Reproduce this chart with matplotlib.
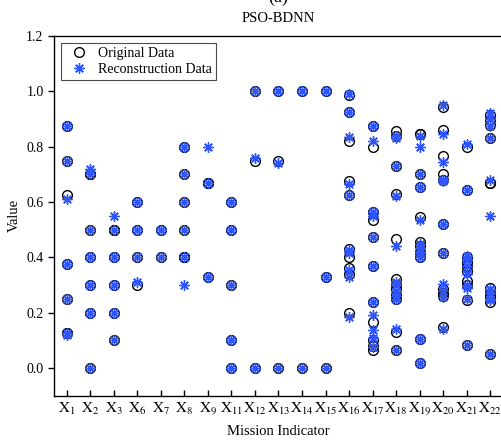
import numpy as np
import matplotlib
matplotlib.use('Agg')
import matplotlib.pyplot as plt

plt.rcParams['font.family'] = ['Liberation Serif', 'DejaVu Serif']
plt.rcParams['mathtext.fontset'] = 'stix'

# mission indicators shown on the x axis
indicators = ['1', '2', '3', '6', '7', '8', '9', '11', '12', '13', '14',
              '15', '16', '17', '18', '19', '20', '21', '22']

# original data, one list per indicator
original = [
    [0.875, 0.75, 0.625, 0.375, 0.25, 0.125, 0.125],
    [0.70, 0.70, 0.50, 0.40, 0.30, 0.20, 0.0],
    [0.50, 0.50, 0.40, 0.30, 0.20, 0.10],
    [0.60, 0.50, 0.40, 0.30],
    [0.50, 0.40],
    [0.80, 0.70, 0.60, 0.50, 0.40, 0.40],
    [0.67, 0.67, 0.33],
    [0.60, 0.50, 0.30, 0.10, 0.0],
    [1.0, 0.75, 0.0],
    [1.0, 0.75, 0.0],
    [1.0, 0.0],
    [1.0, 0.33, 0.0],
    [0.985, 0.925, 0.82, 0.675, 0.625, 0.43, 0.40, 0.36, 0.34, 0.20],
    [0.875, 0.80, 0.565, 0.535, 0.475, 0.37, 0.237, 0.168, 0.10, 0.08, 0.066],
    [0.855, 0.84, 0.73, 0.63, 0.465, 0.32, 0.30, 0.285, 0.265, 0.25, 0.13, 0.065],
    [0.845, 0.845, 0.70, 0.655, 0.545, 0.455, 0.44, 0.42, 0.40, 0.105, 0.018],
    [0.945, 0.86, 0.765, 0.70, 0.68, 0.52, 0.415, 0.285, 0.27, 0.26, 0.15],
    [0.80, 0.645, 0.40, 0.385, 0.37, 0.35, 0.315, 0.30, 0.245, 0.085],
    [0.915, 0.895, 0.88, 0.83, 0.67, 0.67, 0.29, 0.27, 0.255, 0.24, 0.05],
]

# reconstructed data (PSO-BDNN)
recon = [
    [0.875, 0.75, 0.61, 0.375, 0.25, 0.125, 0.12],
    [0.72, 0.70, 0.50, 0.40, 0.30, 0.20, 0.0],
    [0.55, 0.50, 0.40, 0.30, 0.20, 0.10],
    [0.60, 0.50, 0.40, 0.31],
    [0.50, 0.40],
    [0.80, 0.70, 0.60, 0.50, 0.40, 0.30],
    [0.80, 0.67, 0.33],
    [0.60, 0.50, 0.30, 0.10, 0.0],
    [1.0, 0.76, 0.0],
    [1.0, 0.74, 0.0],
    [1.0, 0.0],
    [1.0, 0.33, 0.0],
    [0.99, 0.925, 0.835, 0.665, 0.625, 0.425, 0.415, 0.355, 0.33, 0.185],
    [0.875, 0.82, 0.565, 0.55, 0.475, 0.37, 0.24, 0.19, 0.138, 0.108, 0.075],
    [0.84, 0.83, 0.73, 0.62, 0.44, 0.31, 0.30, 0.28, 0.26, 0.25, 0.14, 0.065],
    [0.84, 0.80, 0.70, 0.655, 0.535, 0.45, 0.435, 0.42, 0.40, 0.105, 0.018],
    [0.95, 0.845, 0.745, 0.68, 0.675, 0.52, 0.415, 0.305, 0.28, 0.255, 0.14],
    [0.81, 0.645, 0.405, 0.39, 0.37, 0.34, 0.30, 0.29, 0.25, 0.085],
    [0.92, 0.90, 0.875, 0.83, 0.68, 0.55, 0.285, 0.27, 0.25, 0.245, 0.05],
]

blue = '#2f55ff'

fig = plt.figure(figsize=(5.01, 4.41), dpi=100)
ax = fig.add_axes([54 / 501, 0.1027, 448 / 501, 0.8157])

for i in range(len(indicators)):
    xs = [i + 1] * len(original[i])
    ax.plot(xs, original[i], 'o', ms=7, mfc='none', mec='black', mew=1.0,
            label='Original Data' if i == 0 else None)
for i in range(len(indicators)):
    xs = [i + 1] * len(recon[i])
    ax.plot(xs, recon[i], ls='none', marker=(8, 2, 0), ms=7.5, mec=blue, mew=1.0,
            label='Reconstruction Data' if i == 0 else None)

ax.set_xlim(0.46, 19.5)
ax.set_ylim(-0.1, 1.2)
ax.set_xticks(np.arange(1, len(indicators) + 1))
ax.set_xticklabels([r'$\mathrm{X}_{%s}$' % s for s in indicators], fontsize=11)
ax.set_yticks(np.arange(0, 1.21, 0.2))
ax.set_yticklabels(['%.1f' % v for v in np.arange(0, 1.21, 0.2)], fontsize=10)
ax.tick_params(axis='x', direction='in', length=4, width=1)
ax.tick_params(axis='y', direction='out', length=4, width=1)
for sp in ax.spines.values():
    sp.set_linewidth(1.0)

ax.set_xlabel('Mission Indicator', fontsize=10.5, labelpad=6)
ax.set_ylabel('Value', fontsize=10.5)
ax.set_title('PSO-BDNN', fontsize=10.5, pad=10)
# panel label, cut off at the top edge as in the source figure
fig.text(0.555, 1.005, '(a)', fontsize=13, ha='center', va='center')

leg = ax.legend(loc='upper left', fontsize=10, frameon=True, fancybox=False,
                edgecolor='0.3', framealpha=1, borderaxespad=0.5,
                handletextpad=0.4, borderpad=0.3, labelspacing=0.2)
leg.get_frame().set_linewidth(0.8)

fig.savefig('out.png', dpi=100)
